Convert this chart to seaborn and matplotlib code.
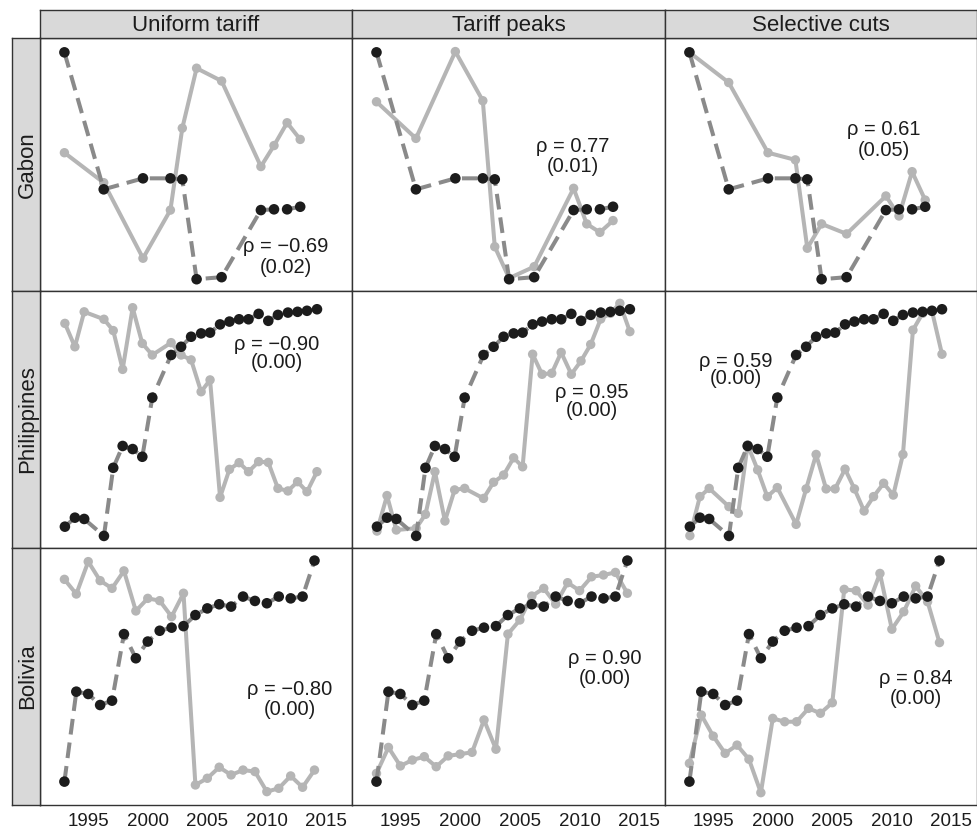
import matplotlib
matplotlib.use("Agg")
import matplotlib.pyplot as plt
import pandas as pd
import seaborn as sns

sns.set_style("white")
plt.rcParams['font.family'] = ['Liberation Sans', 'DejaVu Sans']

# Panels
countries = ["Gabon", "Philippines", "Bolivia"]
scenarios = ["Uniform tariff", "Tariff peaks", "Selective cuts"]

# Gabon
years_gab = [1993.0, 1996.3, 1999.6, 2001.9, 2002.9, 2004.1, 2006.2, 2009.5, 2010.6, 2011.7, 2012.8]
gab_black = [93.2, 39.7, 44.0, 44.0, 43.6, 4.6, 5.4, 31.6, 31.9, 31.9, 32.9]
gab_uniform = [54.0, 42.3, 12.8, 31.6, 63.6, 87.0, 82.0, 48.6, 56.8, 65.7, 59.2]
gab_peaks = [73.9, 59.6, 93.5, 74.3, 17.3, 5.0, 9.5, 40.1, 26.2, 22.9, 27.5]
gab_selective = [93.2, 81.4, 54.0, 51.2, 16.7, 26.2, 22.3, 37.1, 29.3, 46.6, 35.5]

# Philippines
years_phl = [1993.04, 1993.88, 1994.66, 1996.32, 1997.10, 1997.89, 1998.73, 1999.54, 2000.38,
             2001.96, 2002.80, 2003.64, 2004.48, 2005.23, 2006.07, 2006.86, 2007.67, 2008.46,
             2009.31, 2010.12, 2010.93, 2011.77, 2012.58, 2013.37, 2014.21]
phl_black = [8.3, 11.8, 11.3, 4.7, 31.2, 39.7, 38.5, 35.5, 58.5, 75.1, 78.3, 82.2, 83.5,
             83.8, 87.0, 88.1, 89.0, 89.0, 91.1, 88.4, 90.7, 91.6, 91.9, 92.3, 92.9]
phl_uniform = [87.4, 78.3, 91.9, 89.0, 84.6, 69.5, 93.5, 79.6, 75.1, 79.9, 75.1, 73.2, 60.8,
               65.4, 19.7, 30.6, 33.2, 29.7, 33.6, 33.3, 23.2, 22.2, 25.8, 21.9, 29.7]
phl_peaks = [6.6, 20.4, 7.0, 7.7, 13.1, 29.7, 10.5, 22.6, 23.2, 19.3, 25.6, 28.4, 35.1,
             31.6, 75.4, 67.6, 68.0, 76.1, 67.6, 72.8, 79.2, 89.1, 91.3, 95.2, 84.2]
phl_selective = [4.8, 20.0, 23.2, 16.1, 13.5, 40.1, 30.4, 20.0, 23.5, 9.2, 23.0, 36.4, 23.0,
                 23.0, 30.7, 23.0, 14.4, 20.0, 25.2, 20.6, 36.4, 84.8, 91.3, 92.2, 75.4]

# Bolivia
years_bol = [1993, 1994, 1995, 1996, 1997, 1998, 1999, 2000, 2001, 2002, 2003,
             2004, 2005, 2006, 2007, 2008, 2009, 2010, 2011, 2012, 2013, 2014]
bol_black = [9.1, 44.1, 43.2, 38.9, 40.6, 66.5, 57.1, 63.6, 67.8, 69.0, 69.6,
             73.9, 76.5, 78.1, 77.2, 81.1, 79.4, 78.5, 81.1, 80.4, 81.1, 95.1]
bol_uniform = [87.8, 82.1, 94.7, 87.3, 84.3, 91.1, 75.5, 80.4, 79.5, 73.3, 82.4,
               7.8, 10.4, 14.7, 11.7, 13.6, 13.0, 5.2, 6.5, 11.3, 6.9, 13.6]
bol_peaks = [12.3, 22.4, 15.2, 17.5, 18.8, 14.9, 19.1, 19.8, 20.5, 33.1, 21.7,
             66.5, 72.0, 81.3, 84.3, 78.2, 86.5, 83.4, 88.8, 89.5, 90.5, 82.4]
bol_selective = [16.2, 35.0, 26.8, 20.1, 23.3, 17.8, 4.8, 33.7, 32.4, 32.4, 37.6,
                 35.7, 39.8, 83.9, 83.4, 77.8, 90.1, 68.4, 75.2, 85.2, 79.1, 63.2]

# Korelasyon etiketleri
rho_labels = [["ρ = −0.69\n(0.02)", "ρ = 0.77\n(0.01)", "ρ = 0.61\n(0.05)"],
              ["ρ = −0.90\n(0.00)", "ρ = 0.95\n(0.00)", "ρ = 0.59\n(0.00)"],
              ["ρ = −0.80\n(0.00)", "ρ = 0.90\n(0.00)", "ρ = 0.84\n(0.00)"]]
rho_pos = [[(2011.6, 13.3), (2009.4, 52.5), (2009.3, 59.0)],
           [(2010.8, 75.7), (2011.0, 57.0), (1996.9, 69.3)],
           [(2011.9, 41.0), (2012.1, 53.2), (2012.0, 45.4)]]
rho_spacing = [1.1, 0.9, 1.1]

years = {"Gabon": years_gab, "Philippines": years_phl, "Bolivia": years_bol}
black = {"Gabon": gab_black, "Philippines": phl_black, "Bolivia": bol_black}
gray = {
    "Gabon": [gab_uniform, gab_peaks, gab_selective],
    "Philippines": [phl_uniform, phl_peaks, phl_selective],
    "Bolivia": [bol_uniform, bol_peaks, bol_selective],
}

dark = "#1c1c1c"
mid = "#8a8a8a"
light = "#b5b5b5"
edge = "#333333"
strip_fill = "#d9d9d9"

W, H = 977.0, 836.0
col_edges = [40, 352, 665, 977]
row_edges = [38, 291, 548, 805]
ylims = [(0, 98.8), (0, 100), (0, 100)]


def box(x0, y0, x1, y1):
    return [x0 / W, 1 - y1 / H, (x1 - x0) / W, (y1 - y0) / H]


fig = plt.figure(figsize=(9.77, 8.36), dpi=100)

for i, country in enumerate(countries):
    for j, scen in enumerate(scenarios):
        ax = fig.add_axes(box(col_edges[j], row_edges[i], col_edges[j + 1], row_edges[i + 1]))
        df_b = pd.DataFrame({"year": years[country], "value": black[country]})
        df_g = pd.DataFrame({"year": years[country], "value": gray[country][j]})

        sns.lineplot(data=df_g, x="year", y="value", ax=ax, color=light, lw=2.9,
                     errorbar=None, zorder=2)
        sns.scatterplot(data=df_g, x="year", y="value", ax=ax, color=light, s=46,
                        edgecolor="none", linewidth=0, zorder=3)
        sns.lineplot(data=df_b, x="year", y="value", ax=ax, color=mid, lw=2.9,
                     linestyle=(0, (3.9, 2.0)), errorbar=None, zorder=4)
        sns.scatterplot(data=df_b, x="year", y="value", ax=ax, color=dark, s=58,
                        edgecolor="none", linewidth=0, zorder=5)

        ax.set_xlim(1990.95, 2017.15)
        ax.set_ylim(*ylims[i])
        ax.set_xlabel("")
        ax.set_ylabel("")
        ax.set_yticks([])
        ax.set_xticks([1995, 2000, 2005, 2010, 2015])
        if i < 2:
            ax.tick_params(axis="x", length=0, labelbottom=False)
        else:
            ax.tick_params(axis="x", length=4, width=1, color=edge, labelsize=13.5,
                           labelcolor=dark, pad=2)
        for sp in ax.spines.values():
            sp.set_color(edge)
            sp.set_linewidth(1.0)

        tx, ty = rho_pos[i][j]
        ax.text(tx, ty, rho_labels[i][j], ha="center", va="center", fontsize=14.5,
                color=dark, linespacing=rho_spacing[i], zorder=6)

# Üst şeritler
for j, scen in enumerate(scenarios):
    sa = fig.add_axes(box(col_edges[j], 10, col_edges[j + 1], 38))
    sa.set_facecolor(strip_fill)
    sa.set_xticks([])
    sa.set_yticks([])
    for sp in sa.spines.values():
        sp.set_color(edge)
        sp.set_linewidth(1.0)
    sa.text(0.5, 0.45, scen, transform=sa.transAxes, ha="center", va="center",
            fontsize=16, color=dark)

# Sol şeritler
for i, country in enumerate(countries):
    sa = fig.add_axes(box(12, row_edges[i], 40, row_edges[i + 1]))
    sa.set_facecolor(strip_fill)
    sa.set_xticks([])
    sa.set_yticks([])
    for sp in sa.spines.values():
        sp.set_color(edge)
        sp.set_linewidth(1.0)
    sa.text(0.55, 0.5, country, transform=sa.transAxes, ha="center", va="center",
            rotation=90, fontsize=16, color=dark)

fig.savefig("out.png", dpi=100)
